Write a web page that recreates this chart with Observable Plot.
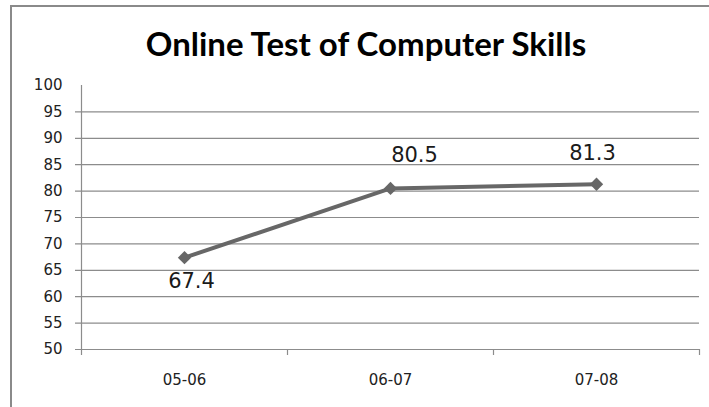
<!DOCTYPE html>
<html>
<head>
<meta charset="utf-8">
<script src="https://cdn.jsdelivr.net/npm/d3@7"></script>
<script src="https://cdn.jsdelivr.net/npm/@observablehq/plot@0.6"></script>
<style>
  html, body { margin: 0; padding: 0; background: #fff; overflow: hidden; }
  #wrap { position: relative; width: 709px; height: 407px; }
  #border { position: absolute; left: 10px; top: 5px; width: 720px; height: 430px;
            border-left: 2px solid #8a8a8a; border-top: 2px solid #8a8a8a; box-sizing: border-box; }
  #title { position: absolute; left: 0; top: 27px; width: 732px; text-align: center;
           font: bold 33px/33px Lato, sans-serif; color: #000; white-space: nowrap; }
  #chart { position: absolute; left: 0; top: 0; }
</style>
</head>
<body>
<div id="wrap">
  <div id="border"></div>
  <div id="title"></div>
  <div id="chart"></div>
</div>
<script>
const title = "Online Test of Computer Skills";
const categories = ["05-06", "06-07", "07-08"];
const scores = [67.4, 80.5, 81.3];
const yTicks = [50, 55, 60, 65, 70, 75, 80, 85, 90, 95, 100];

document.getElementById("title").textContent = title;

const data = categories.map((c, i) => ({cat: c, pos: i + 0.5, score: scores[i]}));
const gray = "#8c8c8c";
const lineColor = "#676767";

const labelMark = (idx, dx, dy) => Plot.text(data.filter((d, i) => i === idx), {
  x: "pos", y: "score", text: d => d.score.toFixed(1),
  dx, dy, fontSize: 21, fill: "#1a1a1a", fontFamily: "DejaVu Sans"
});

const chart = Plot.plot({
  width: 709,
  height: 407,
  marginLeft: 81,
  marginRight: 10,
  marginTop: 85,
  marginBottom: 58,
  style: {background: "transparent", fontFamily: "DejaVu Sans", fontSize: "15px", color: "#222"},
  x: {domain: [0, categories.length], axis: null},
  y: {domain: [50, 100], axis: null},
  marks: [
    Plot.ruleY(yTicks.filter(v => v < 100), {stroke: gray, strokeWidth: 1.2, insetLeft: -6}),
    Plot.ruleX([0], {y1: 50, y2: 100, stroke: gray, strokeWidth: 1.2}),
    Plot.ruleX(d3.range(categories.length + 1), {y1: 50, y2: 50, insetBottom: -6, stroke: gray, strokeWidth: 1.2}),
    Plot.axisY(yTicks, {tickSize: 0, tickPadding: 19, label: null, fontSize: 15, fill: "#222"}),
    Plot.axisX(data.map(d => d.pos), {tickSize: 0, tickPadding: 25, label: null, fontSize: 15, fill: "#222",
      tickFormat: p => categories[Math.round(p - 0.5)]}),
    Plot.line(data, {x: "pos", y: "score", stroke: lineColor, strokeWidth: 4}),
    Plot.dot(data, {x: "pos", y: "score", symbol: "diamond2", r: 6, fill: lineColor, stroke: "none"}),
    labelMark(0, 7, 24),
    labelMark(1, 24, -33),
    labelMark(2, -4, -31)
  ]
});
document.getElementById("chart").appendChild(chart);
</script>
</body>
</html>
